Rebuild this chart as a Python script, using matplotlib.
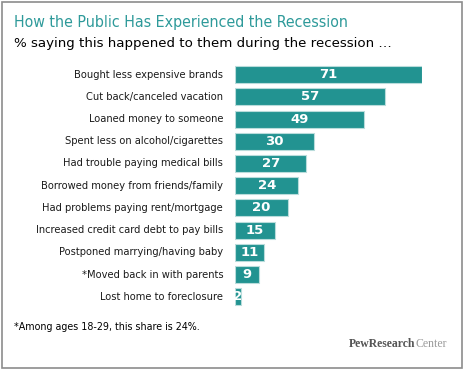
import matplotlib
matplotlib.use("Agg")
import matplotlib.pyplot as plt
from matplotlib.patches import Rectangle

categories = [
    "Bought less expensive brands",
    "Cut back/canceled vacation",
    "Loaned money to someone",
    "Spent less on alcohol/cigarettes",
    "Had trouble paying medical bills",
    "Borrowed money from friends/family",
    "Had problems paying rent/mortgage",
    "Increased credit card debt to pay bills",
    "Postponed marrying/having baby",
    "*Moved back in with parents",
    "Lost home to foreclosure",
]
values = [71, 57, 49, 30, 27, 24, 20, 15, 11, 9, 2]

title = "How the Public Has Experienced the Recession"
subtitle = "% saying this happened to them during the recession \u2026"
footnote = "*Among ages 18-29, this share is 24%."

W, H = 466, 371
TEAL = "#229391"

fig = plt.figure(figsize=(W / 100, H / 100), dpi=100)
fig.patch.set_facecolor("white")

def fx(px):
    return px / W

def fy(py):
    return 1 - py / H

fig.patches.append(Rectangle((fx(2), fy(368)), fx(460), 366 / H, transform=fig.transFigure,
                             fill=False, edgecolor="#8c8c8c", linewidth=1.2))

row = 22.2
first_c = 74.7
n = len(categories)
top = first_c - row / 2
bottom = first_c + (n - 1) * row + row / 2
left_px, right_px = 235.3, 422.0
ax = fig.add_axes([fx(left_px), fy(bottom), fx(right_px - left_px), (bottom - top) / H])
ax.set_xlim(0, max(values))
ax.set_ylim(n - 0.5, -0.5)
ax.axis("off")

ypos = list(range(n))
ax.barh(ypos, values, height=0.77, color=TEAL, edgecolor="#b9dcdb", linewidth=0.8)
for y, v, c in zip(ypos, values, categories):
    ax.text(v / 2, y, str(v), ha="center", va="center", color="white",
            fontsize=9.5, fontweight="bold", family="DejaVu Sans")
    ax.text(-4.6, y, c, ha="right", va="center", color="#1a1a1a",
            fontsize=7.95, family="DejaVu Sans", fontstretch="condensed")

tt = fig.text(fx(14), fy(22.5), title, ha="left", va="center", color="#2e9a9a",
              fontsize=11.4, family="DejaVu Sans", fontstretch="condensed")
fig.text(fx(14), fy(43.5), subtitle, ha="left", va="center", color="black",
         fontsize=9.6, family="DejaVu Sans")
fig.text(fx(14), fy(327), footnote, ha="left", va="center", color="black",
         fontsize=7.7, family="DejaVu Sans", fontstretch="condensed")
t1 = fig.text(fx(349), fy(344), "PewResearch", ha="left", va="center", color="#555555",
              fontsize=8.5, family="Liberation Serif", fontweight="bold")
fig.canvas.draw()
bb = t1.get_window_extent()
fig.text(bb.x1 / W, fy(344), "Center", ha="left", va="center", color="#9a9a9a",
         fontsize=8.5, family="Liberation Serif")

fig.savefig("out.png", dpi=100)
